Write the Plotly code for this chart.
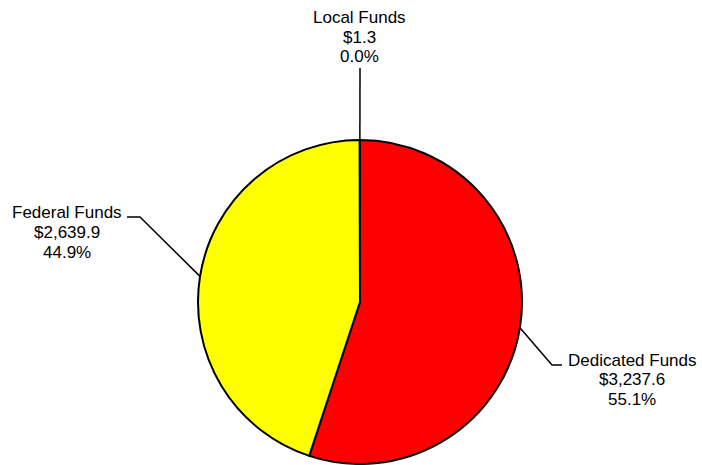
import math
import plotly.graph_objects as go

labels = ["Dedicated Funds", "Federal Funds", "Local Funds"]
values = [3237.6, 2639.9, 1.3]
colors = ["#FF0000", "#FFFF00", "#0000FF"]

W, H = 702, 465
CX, CY, R = 360, 302, 162

def px(x):
    return x / W

def py(y):
    return 1 - y / H

total = sum(values)
fig = go.Figure(go.Pie(
    labels=labels, values=values, sort=False, direction="clockwise", rotation=0,
    marker=dict(colors=colors, line=dict(color="black", width=2)),
    textinfo="none", hoverinfo="label+value+percent",
    domain=dict(x=[px(CX - R), px(CX + R)], y=[py(CY + R), py(CY - R)]),
    showlegend=False,
))

# label layout: (elbow point, end point, text center x, first-line y)
label_layout = {
    "Local Funds": ((360, 68), (360, 68), 360, 18),
    "Federal Funds": ((140, 217), (127, 217), 67, 213),
    "Dedicated Funds": ((552, 365), (562, 365), 632, 360),
}

shapes = []
annotations = []
cum = 0.0
for lab, v in zip(labels, values):
    mid = (cum + v / 2) / total * 2 * math.pi
    cum += v
    sx = CX + R * math.sin(mid)
    sy = CY - R * math.cos(mid)
    (ex, ey), (fx, fy), tx, ty = label_layout[lab]
    path = f"M {px(sx)} {py(sy)} L {px(ex)} {py(ey)} L {px(fx)} {py(fy)}"
    shapes.append(dict(type="path", xref="paper", yref="paper", path=path,
                       line=dict(color="black", width=1.5)))
    lines = [lab, f"${v:,.1f}", f"{v / total * 100:.1f}%"]
    for i, t in enumerate(lines):
        annotations.append(dict(text=t, x=px(tx), y=py(ty + i * 19.5), xref="paper", yref="paper",
                                xanchor="center", yanchor="middle", showarrow=False,
                                font=dict(family="Liberation Sans, Arial, sans-serif", size=17, color="black")))

fig.update_layout(
    width=W, height=H, margin=dict(l=0, r=0, t=0, b=0),
    paper_bgcolor="white", plot_bgcolor="white",
    shapes=shapes, annotations=annotations,
)
fig.write_html("out.html", config={"displayModeBar": False},
               post_script="document.body.style.margin='0px';document.body.style.overflow='hidden';")
